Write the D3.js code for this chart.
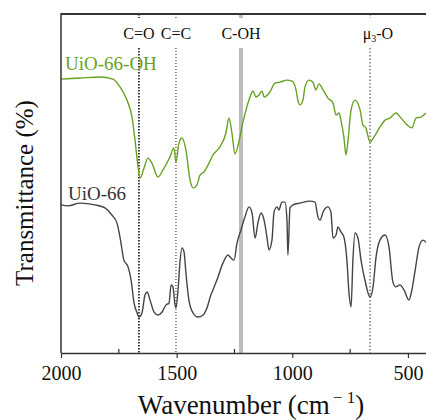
<!DOCTYPE html>
<html>
<head>
<meta charset="utf-8">
<script src="https://cdn.jsdelivr.net/npm/d3@7"></script>
<style>
  body { margin: 0; background: #fff; }
  svg text { font-family: "Liberation Serif", "Times New Roman", serif; }
</style>
</head>
<body>
<div id="chart"></div>
<script>
// Spectra (wavenumber, transmittance offset a.u.)
var ohWave = [2000,1918,1831,1775,1745,1715,1693,1680,1667,1658,1641,1624,1607,1581,1559,1529,1512,1503,1490,1477,1460,1442,1429,1412,1399,1382,1360,1343,1313,1287,1274,1261,1248,1231,1218,1200,1183,1170,1157,1144,1131,1122,1097,1075,1053,1023,1001,984,976,967,954,945,928,911,898,885,867,846,824,811,798,790,777,768,759,746,729,707,695,682,664,647,621,599,578,552,530,504,483,465,444,422];
var ohT = [80.8,81.1,81.4,80.8,78.5,74.6,69.6,62.8,54.9,51.6,54.6,57.5,56.0,51.9,54.0,57.8,60.5,56.3,61.9,63.4,59.9,51.0,48.7,49.6,52.5,53.4,56.0,58.4,60.8,64.9,69.3,64.9,58.7,62.2,66.7,71.7,75.5,77.3,75.5,76.1,77.3,75.5,77.0,79.6,79.9,80.5,80.2,77.6,74.6,73.2,74.6,78.5,80.5,79.9,77.6,79.4,77.6,75.2,73.7,70.2,70.8,68.7,63.7,58.4,62.8,71.7,74.6,71.7,67.3,66.4,62.2,63.7,66.7,68.7,69.3,70.8,69.3,67.3,66.4,69.3,69.6,70.8];

var uioWave = [2000,1970,1918,1853,1810,1780,1758,1745,1728,1710,1697,1684,1671,1663,1650,1637,1628,1615,1598,1581,1563,1546,1533,1524,1516,1507,1503,1494,1486,1477,1468,1460,1447,1429,1408,1386,1369,1352,1343,1326,1300,1278,1265,1252,1239,1222,1205,1187,1174,1161,1148,1135,1122,1109,1101,1088,1079,1066,1058,1045,1032,1023,1019,1010,997,967,924,902,889,880,867,846,833,824,811,803,790,777,764,755,746,738,729,716,703,686,664,651,638,621,599,582,565,552,535,517,496,483,470,452,435,422];
var uioT = [43.7,43.4,44.2,43.7,42.8,40.7,38.3,34.2,27.4,25.4,21.5,14.7,11.8,10.6,11.8,17.1,18.0,15.6,12.1,11.2,12.1,14.2,14.7,20.1,19.5,14.2,13.3,18.6,26.5,31.0,29.8,23.6,15.6,11.8,10.6,11.2,13.3,17.1,18.6,21.5,26.5,28.9,28.0,27.4,32.4,36.3,40.1,43.1,41.3,33.9,38.6,41.3,39.2,33.9,30.4,33.3,41.6,43.1,42.2,44.5,44.5,39.2,28.9,42.8,43.7,44.2,44.8,44.5,40.1,39.2,41.6,43.1,41.6,33.9,34.8,37.2,35.7,34.2,27.4,17.7,13.6,27.4,35.4,33.9,27.4,21.5,16.5,19.5,28.3,33.3,34.8,31.3,20.9,19.5,20.1,18.6,15.6,18.6,23.9,31.3,33.3,32.7];

var bandPos = [1663, 1503, 1222, 664];
var bandNames = ["C=O", "C=C", "C-OH", "μ3-O"];
var xTicks = [2000, 1500, 1000, 500];
var xMinor = [1750, 1250, 750];

var W = 426, H = 420;
var mLeft = 61, mTop = 14, mBottom = 353;

var svg = d3.select("#chart").append("svg")
  .attr("width", W).attr("height", H)
  .style("font-family", "Liberation Serif, serif");

var x = d3.scaleLinear().domain([2000, 422]).range([mLeft, W]);
var y = d3.scaleLinear().domain([0, 100]).range([mBottom, mTop]);

// band marker lines
var lineStyle = [
  { w: 1.6, dash: "1.5,1.5", c: "#111" },
  { w: 1, dash: "1,2", c: "#222" },
  { w: 4, dash: null, c: "#bdbdbd" },
  { w: 1, dash: "1.5,2", c: "#333" }
];
bandPos.forEach(function(p, i) {
  var s = lineStyle[i];
  [[48, mBottom], [mTop, 18]].forEach(function(seg) {
    svg.append("line")
      .attr("x1", x(p)).attr("x2", x(p))
      .attr("y1", seg[0]).attr("y2", seg[1])
      .attr("stroke", s.c).attr("stroke-width", s.w)
      .attr("stroke-dasharray", s.dash);
  });
});

// band labels
var labX = [1663, 1503, 1222, 630];
bandNames.forEach(function(n, i) {
  var t = svg.append("text")
    .attr("x", x(labX[i])).attr("y", 39)
    .attr("text-anchor", "middle")
    .attr("font-size", 16).attr("fill", "#111");
  if (n === "μ3-O") {
    t.append("tspan").text("μ");
    t.append("tspan").attr("font-size", 10).attr("dy", 3).text("3");
    t.append("tspan").attr("dy", -3).text("-O");
  } else {
    t.text(n);
  }
});

var line = d3.line()
  .x(function(d) { return x(d[0]); })
  .y(function(d) { return y(d[1]); })
  .curve(d3.curveMonotoneX);

svg.append("path")
  .datum(ohWave.map(function(w, i) { return [w, ohT[i]]; }))
  .attr("fill", "none").attr("stroke", "#69a222").attr("stroke-width", 1.4)
  .attr("d", line);

svg.append("path")
  .datum(uioWave.map(function(w, i) { return [w, uioT[i]]; }))
  .attr("fill", "none").attr("stroke", "#444").attr("stroke-width", 1.4)
  .attr("d", line);

// series labels
svg.append("text").attr("x", 65).attr("y", 70)
  .attr("font-size", 19).attr("fill", "#69a222").text("UiO-66-OH");
svg.append("text").attr("x", 68).attr("y", 200)
  .attr("font-size", 19).attr("fill", "#333").text("UiO-66");

// frame
svg.append("line").attr("x1", mLeft).attr("x2", W).attr("y1", mTop).attr("y2", mTop)
  .attr("stroke", "#333").attr("stroke-width", 2);
svg.append("line").attr("x1", mLeft).attr("x2", mLeft).attr("y1", mTop - 1).attr("y2", mBottom)
  .attr("stroke", "#333").attr("stroke-width", 1.5);

// x axis
var gx = svg.append("g").attr("transform", "translate(0," + mBottom + ")")
  .call(d3.axisBottom(x).tickValues(xTicks).tickFormat(d3.format("d"))
    .tickSize(5).tickSizeOuter(0).tickPadding(8));
gx.attr("font-family", null);
gx.select(".domain").attr("stroke", "#333").attr("stroke-width", 1.5);
gx.selectAll(".tick line").attr("stroke", "#333").attr("stroke-width", 1.2);
gx.selectAll(".tick text").attr("font-size", 20).attr("fill", "#111");

gx.selectAll(".minor").data(xMinor).enter().append("line")
  .attr("x1", function(d) { return x(d); }).attr("x2", function(d) { return x(d); })
  .attr("y1", 0).attr("y2", -4)
  .attr("stroke", "#333").attr("stroke-width", 1.2);

// axis titles
var xt = svg.append("text").attr("x", 251).attr("y", 414)
  .attr("text-anchor", "middle").attr("font-size", 27).attr("fill", "#111");
xt.append("tspan").text("Wavenumber (cm");
xt.append("tspan").attr("font-size", 17).attr("dy", -11).attr("dx", 3).text("− 1");
xt.append("tspan").attr("dy", 11).text(")");

svg.append("text")
  .attr("transform", "translate(33,193) rotate(-90)")
  .attr("text-anchor", "middle").attr("font-size", 25).attr("fill", "#111")
  .text("Transmittance (%)");
</script>
</body>
</html>
